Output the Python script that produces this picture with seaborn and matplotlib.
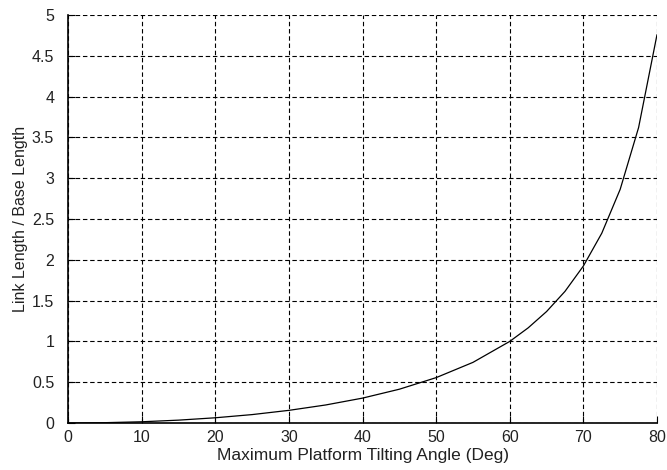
import matplotlib
matplotlib.use("Agg")
import matplotlib.pyplot as plt
import seaborn as sns
import pandas as pd

# Data
angle_deg = [0, 5, 10, 15, 20, 25, 30, 35, 40, 45, 50, 55, 60,
             62.5, 65, 67.5, 70, 72.5, 75, 77.5, 80]
ratio = [0.0, 0.004, 0.015, 0.035, 0.064, 0.103, 0.155, 0.221, 0.305, 0.414,
         0.556, 0.743, 1.0, 1.166, 1.366, 1.613, 1.924, 2.326, 2.864, 3.621, 4.759]
x_ticks = [0, 10, 20, 30, 40, 50, 60, 70, 80]
y_ticks = [0, 0.5, 1, 1.5, 2, 2.5, 3, 3.5, 4, 4.5, 5]
y_tick_labels = ["0", "0.5", "1", "1.5", "2", "2.5", "3", "3.5", "4", "4.5", "5"]
x_label = "Maximum Platform Tilting Angle (Deg)"
y_label = "Link Length / Base Length"

sns.set_style("white")
plt.rcParams['font.family'] = ['Liberation Sans', 'DejaVu Sans']

df = pd.DataFrame({"angle": angle_deg, "ratio": ratio})

fig = plt.figure(figsize=(6.67, 4.70), dpi=100)
ax = fig.add_axes([0.102, 0.100, 0.883, 0.868])

sns.lineplot(data=df, x="angle", y="ratio", ax=ax, color="black", linewidth=0.9, zorder=3)

ax.set_xlim(0, 80)
ax.set_ylim(0, 5)
ax.set_xticks(x_ticks)
ax.set_yticks(y_ticks)
ax.set_yticklabels(y_tick_labels)

ax.grid(True, color="black", linestyle=(0, (4, 2.5)), linewidth=0.8, zorder=1)
ax.set_axisbelow(True)

for side in ["top", "right"]:
    ax.spines[side].set_visible(False)
for side in ["left", "bottom"]:
    ax.spines[side].set_color("black")
    ax.spines[side].set_linewidth(1.2)

ax.tick_params(axis="both", direction="in", length=5, width=0.8, color="black",
               labelsize=11.5, labelcolor="#222222", left=True, bottom=True)
ax.tick_params(axis="y", pad=10)
ax.tick_params(axis="x", pad=5)

ax.set_xlabel(x_label, fontsize=12.5, color="#222222", labelpad=2)
ax.set_ylabel(y_label, fontsize=11.5, color="#222222", labelpad=3)

fig.savefig("out.png", dpi=100)
